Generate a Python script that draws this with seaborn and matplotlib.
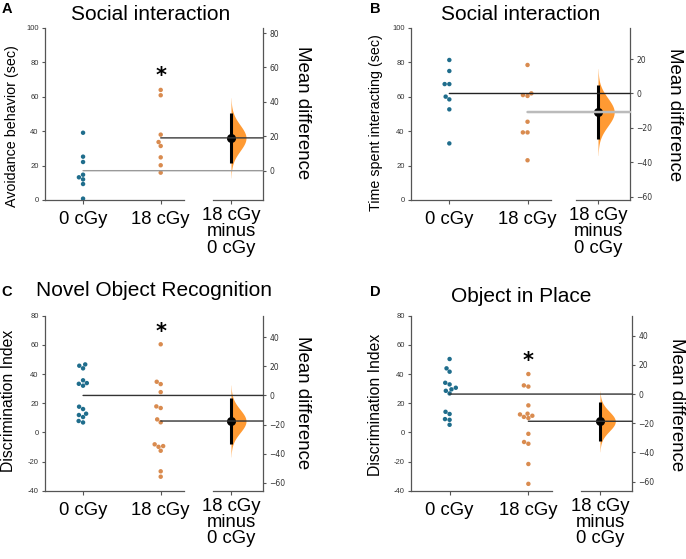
import numpy as np
import pandas as pd
import matplotlib
matplotlib.use("Agg")
import matplotlib.pyplot as plt
import seaborn as sns
from matplotlib.patches import ConnectionPatch
from matplotlib.ticker import MultipleLocator, FuncFormatter

# values
groups = ["0 cGy", "18 cGy"]
contrast_label = "18 cGy\nminus\n0 cGy"

a_ctrl = [39.1, 25.2, 22.1, 14.7, 13.2, 12.0, 9.3, 0.8]
a_test = [64.0, 60.9, 38.0, 33.7, 31.4, 24.8, 20.2, 15.9]
b_ctrl = [81.4, 75.0, 67.4, 67.4, 60.1, 58.5, 52.7, 32.9]
b_test = [78.5, 62.0, 61.0, 60.5, 45.5, 39.3, 39.3, 23.1]
c_ctrl = [46.6, 45.7, 43.9, 35.7, 33.8, 33.3, 32.0, 17.6, 16.0, 12.8, 11.9, 10.5, 7.8, 6.8]
c_test = [60.4, 34.7, 33.1, 27.6, 17.8, 16.7, 8.9, 6.9, -8.2, -9.4, -9.9, -12.6, -26.7, -30.4]
d_ctrl = [50.3, 43.9, 41.6, 34.0, 32.9, 30.6, 29.5, 28.5, 26.7, 14.1, 12.6, 9.1, 8.6, 5.2]
d_test = [40.0, 32.2, 31.4, 18.5, 12.8, 12.3, 11.4, 10.6, 9.8, -1.0, -6.6, -7.8, -21.7, -35.3]

titles = ["Social interaction", "Social interaction", "Novel Object Recognition", "Object in Place"]
ylabels = ["Avoidance behavior (sec)", "Time spent interacting (sec)",
           "Discrimination Index", "Discrimination Index"]
letters = ["A", "B", "C", "D"]
ylims = [(0, 100), (0, 100), (-40, 80), (-40, 80)]
star_y = [72, None, 69, 49]

ctrl_color = "#1f6d8c"
test_color = "#d98b4f"
violin_color = "#ff9a33"

sns.set_style("ticks")
plt.rcParams["font.family"] = ["Liberation Sans", "DejaVu Sans"]
plt.rcParams["text.color"] = "black"

W, H = 686, 559
fig = plt.figure(figsize=(W / 100, H / 100), dpi=100)


def px_axes(x0, x1, ytop, ybot):
    return fig.add_axes([x0 / W, 1 - ybot / H, (x1 - x0) / W, (ybot - ytop) / H])


# layout in pixels: main axes, contrast axes, text anchors
layout = [
    dict(main=(45, 184), con=(213, 263), cpos=231, top=28, bot=200,
         title=(151, 14), letter=(7, 9), ylab=(12, 126), rlab=(302, 113),
         lines=[("#9a9a9a", 1.0), ("#3a3a3a", 1.0)]),
    dict(main=(411, 551), con=(576, 630), cpos=598, top=28, bot=200,
         title=(521, 14), letter=(375, 9), ylab=(376, 123), rlab=(675, 115),
         lines=[("#222222", 1.0), ("#bbbbbb", 1.8)]),
    dict(main=(45, 184), con=(213, 263), cpos=231, top=315.7, bot=490.7,
         title=(154, 291), letter=(7, 292), ylab=(9, 401), rlab=(302, 403),
         lines=[("#333333", 1.0), ("#333333", 1.0)]),
    dict(main=(411, 552), con=(581, 632), cpos=600, top=315.7, bot=490.7,
         title=(521, 296), letter=(375, 292), ylab=(376, 405), rlab=(676, 405),
         lines=[("#333333", 1.0), ("#333333", 1.0)]),
]

datasets = [(a_ctrl, a_test), (b_ctrl, b_test), (c_ctrl, c_test), (d_ctrl, d_test)]
spine_col = "#555555"

for k, ((ctrl, test), lay) in enumerate(zip(datasets, layout)):
    ctrl = np.array(ctrl)
    test = np.array(test)
    df = pd.DataFrame({"group": [groups[0]] * len(ctrl) + [groups[1]] * len(test),
                       "value": np.concatenate([ctrl, test])})

    ax = px_axes(lay["main"][0], lay["main"][1], lay["top"], lay["bot"])
    sns.swarmplot(data=df, x="group", y="value", hue="group", order=groups,
                  palette=[ctrl_color, test_color], size=3.2, ax=ax, legend=False, zorder=3)
    ax.set_xlim(-0.49, 1.3)
    ax.set_ylim(*ylims[k])
    ax.yaxis.set_major_locator(MultipleLocator(20))
    ax.yaxis.set_major_formatter(FuncFormatter(lambda v, p: f"{v:.0f}"))
    ax.set_xlabel("")
    ax.set_ylabel("")
    for s in ["top", "right"]:
        ax.spines[s].set_visible(False)
    for s in ["left", "bottom"]:
        ax.spines[s].set_color(spine_col)
        ax.spines[s].set_linewidth(0.9)
    ax.tick_params(axis="y", labelsize=5.5, length=2.5, width=0.8, colors=spine_col,
                   labelcolor="#333333", pad=2)
    ax.tick_params(axis="x", labelsize=13.3, length=3, width=0.8, colors=spine_col,
                   labelcolor="black", pad=5)

    # contrast axes
    cx0, cx1 = lay["con"]
    ax2 = px_axes(cx0, cx1, lay["top"], lay["bot"])
    frac = (lay["cpos"] - cx0) / (cx1 - cx0)
    ax2.set_xlim(-frac, 1 - frac)
    cm, tm = ctrl.mean(), test.mean()
    diff = tm - cm
    ax2.set_ylim(ylims[k][0] - cm, ylims[k][1] - cm)
    ax2.set_facecolor("none")
    for s in ["top", "left"]:
        ax2.spines[s].set_visible(False)
    for s in ["right", "bottom"]:
        ax2.spines[s].set_color(spine_col)
        ax2.spines[s].set_linewidth(0.9)
    ax2.yaxis.tick_right()
    ax2.yaxis.set_major_locator(MultipleLocator(20))
    ax2.tick_params(axis="y", labelsize=5.5, length=2.5, width=0.8, colors=spine_col,
                    labelcolor="#333333", pad=2, labelfontfamily="DejaVu Sans")
    ax2.set_xticks([0])
    ax2.set_xticklabels([contrast_label], linespacing=0.95)
    ax2.tick_params(axis="x", labelsize=13.3, length=3, width=0.8, colors=spine_col,
                    labelcolor="black", pad=2)

    # sampling distribution of the mean difference
    se = np.sqrt(ctrl.var(ddof=1) / len(ctrl) + test.var(ddof=1) / len(test))
    ys = np.linspace(diff - 3.1 * se, diff + 3.1 * se, 300)
    dens = np.exp(-0.5 * ((ys - diff) / se) ** 2)
    ax2.fill_betweenx(ys, 0, 0.3 * dens, color=violin_color, lw=0, zorder=2)
    ax2.plot([0, 0], [diff - 1.96 * se, diff + 1.96 * se], color="black", lw=2.2,
             solid_capstyle="butt", zorder=4)
    ax2.plot([0], [diff], "o", color="black", ms=5.5, zorder=5)

    # mean reference lines running into the contrast axes
    for i, (m, (col, lw)) in enumerate(zip([cm, tm], lay["lines"])):
        con = ConnectionPatch(xyA=(i, m), coordsA=ax.transData,
                              xyB=(1, m - cm), coordsB=ax2.get_yaxis_transform(),
                              color=col, lw=lw, zorder=1)
        fig.add_artist(con)

    if star_y[k] is not None:
        ax.text(1, star_y[k], "*", ha="center", va="center", fontsize=15,
                fontweight="bold", family="DejaVu Sans", color="black")

    fig.text(lay["title"][0] / W, 1 - lay["title"][1] / H, titles[k],
             ha="center", va="center", fontsize=15, color="black")
    fig.text(lay["letter"][0] / W, 1 - lay["letter"][1] / H, letters[k],
             ha="center", va="center", fontsize=10.5, fontweight="bold", color="black")
    fig.text(lay["ylab"][0] / W, 1 - lay["ylab"][1] / H, ylabels[k],
             ha="center", va="center", rotation=90, color="black",
             fontsize=10.3 if k < 2 else 11.3)
    fig.text(lay["rlab"][0] / W, 1 - lay["rlab"][1] / H, "Mean difference",
             ha="center", va="center", rotation=270, fontsize=13.4, color="black")

fig.savefig("out.png", dpi=100)
